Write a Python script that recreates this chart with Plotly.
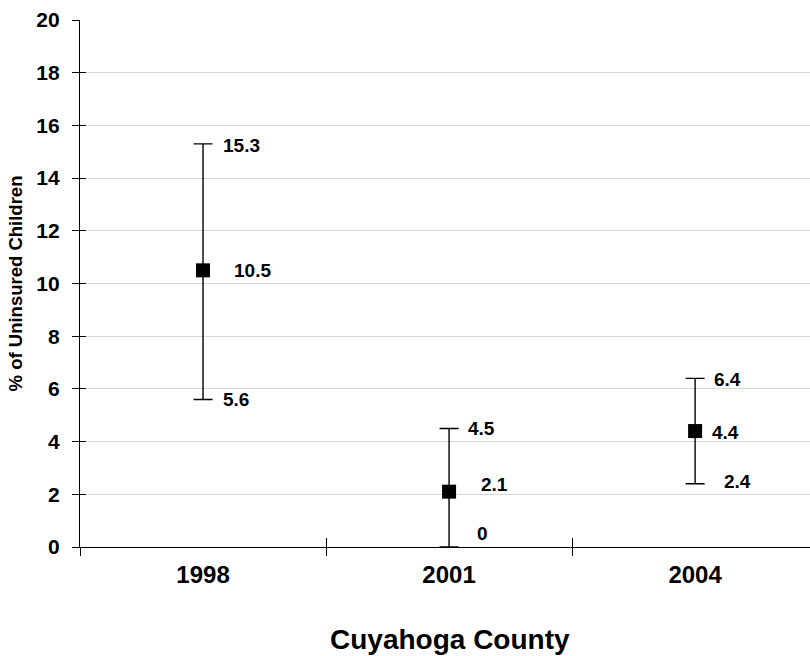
import plotly.graph_objects as go

# Survey years and estimated share of uninsured children (%), with interval bounds
years = ["1998", "2001", "2004"]
estimate = [10.5, 2.1, 4.4]
lower = [5.6, 0.0, 2.4]
upper = [15.3, 4.5, 6.4]

FONT = "Liberation Sans, Arial, sans-serif"

# label offsets (px) relative to each point / bound
up_dx, up_dy = [18, 17, 17], [-2, 0, -1]
est_dx, est_dy = [29, 30, 15], [0, 7, -1]
low_dx, low_dy = [18, 26, 27], [0, 14, 2]

fig = go.Figure()

fig.add_trace(go.Scatter(
    x=years, y=estimate, mode="markers",
    marker=dict(symbol="square", size=14, color="black"),
    error_y=dict(
        type="data", symmetric=False,
        array=[u - e for u, e in zip(upper, estimate)],
        arrayminus=[e - l for e, l in zip(estimate, lower)],
        color="black", thickness=1.4, width=9.5,
    ),
    hoverinfo="skip", showlegend=False,
))

# invisible copy on the overlay axes that carry the inner half of the tick marks
fig.add_trace(go.Scatter(
    x=years, y=estimate, xaxis="x2", yaxis="y2", mode="markers",
    marker=dict(opacity=0), hoverinfo="skip", showlegend=False,
))

def fmt(v):
    return f"{v:g}"

ann = []
for i, yr in enumerate(years):
    # category axes take the category index for annotation positions
    for val, dx, dy in ((upper[i], up_dx[i], up_dy[i]),
                        (estimate[i], est_dx[i], est_dy[i]),
                        (lower[i], low_dx[i], low_dy[i])):
        ann.append(dict(
            x=i, y=val, xref="x", yref="y", text=fmt(val), showarrow=False,
            xanchor="left", yanchor="middle", xshift=dx, yshift=dy,
            font=dict(family=FONT, size=19, color="black", weight="bold"),
        ))

ann.append(dict(
    x=0.507, y=-0.1746, xref="paper", yref="paper", text="Cuyahoga County",
    showarrow=False, xanchor="center", yanchor="middle",
    font=dict(family=FONT, size=28, color="black", weight="bold"),
))

x_range = [-0.5, 2.467]

fig.update_layout(
    width=810, height=656,
    margin=dict(l=80, r=0, t=20, b=109),
    paper_bgcolor="white", plot_bgcolor="white",
    annotations=ann,
    xaxis=dict(
        type="category", categoryorder="array", categoryarray=years,
        range=x_range, tickson="boundaries",
        ticks="outside", ticklen=8, tickwidth=1, tickcolor="black",
        showline=True, linecolor="black", linewidth=1.2,
        showgrid=False, zeroline=False,
        tickfont=dict(family=FONT, size=24, color="black", weight="bold"),
        ticklabelstandoff=6,
    ),
    yaxis=dict(
        range=[0, 20], dtick=2, tick0=0,
        ticks="outside", ticklen=7, tickwidth=1, tickcolor="black",
        showline=True, linecolor="black", linewidth=1.2,
        showgrid=True, gridcolor="#d6d6d6", gridwidth=1,
        zeroline=False,
        tickfont=dict(family=FONT, size=21, color="black", weight="bold"),
        ticklabelstandoff=8,
        title=dict(text="% of Uninsured Children", standoff=8,
                   font=dict(family=FONT, size=18.5, color="black", weight="bold")),
    ),
    xaxis2=dict(
        type="category", categoryorder="array", categoryarray=years,
        range=x_range, tickson="boundaries", overlaying="x", anchor="y",
        side="bottom", ticks="inside", ticklen=9, tickwidth=1, tickcolor="black",
        showticklabels=False, showgrid=False, showline=False, zeroline=False,
    ),
    yaxis2=dict(
        range=[0, 20], dtick=2, tick0=0, overlaying="y", anchor="x", side="left",
        ticks="inside", ticklen=6, tickwidth=1, tickcolor="black",
        showticklabels=False, showgrid=False, showline=False, zeroline=False,
    ),
)

fig.write_html("out.html")
